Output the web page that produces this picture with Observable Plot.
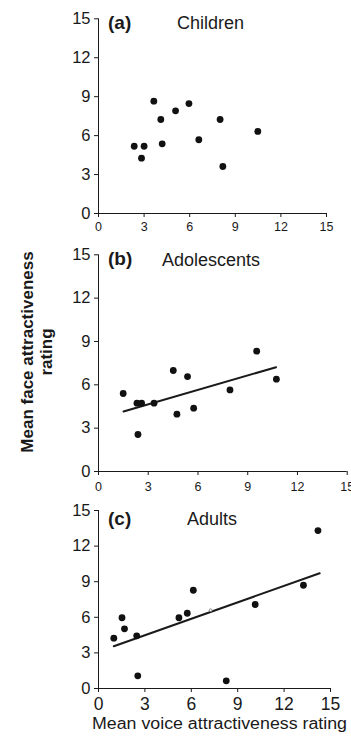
<!DOCTYPE html>
<html>
<head>
<meta charset="utf-8">
<script src="https://cdn.jsdelivr.net/npm/d3@7"></script>
<script src="https://cdn.jsdelivr.net/npm/@observablehq/plot@0.6"></script>
<style>
  html, body { margin: 0; padding: 0; background: #fff; }
  body { position: relative; width: 351px; height: 736px; overflow: hidden;
         font-family: "Liberation Sans", Arial, Helvetica, sans-serif; color: #1a1a1a; }
  .panel { position: absolute; left: 0; }
  #pa g[aria-label^="x-axis"] { font-size: 12.5px; }
  #pb g[aria-label^="x-axis"] { font-size: 12.5px; }
  #pc g[aria-label^="x-axis"] { font-size: 17.5px; }
  #overlay { position: absolute; left: 0; top: 0; pointer-events: none; }
</style>
</head>
<body>
<div id="pa" class="panel" style="top:0px"></div>
<div id="pb" class="panel" style="top:240px"></div>
<div id="pc" class="panel" style="top:495px"></div>
<script>
// ---- data ----
const xTicks = [0, 3, 6, 9, 12, 15];
const yTicks = [0, 3, 6, 9, 12, 15];

const panelTags   = ["(a)", "(b)", "(c)"];
const panelTitles = ["Children", "Adolescents", "Adults"];
const xAxisTitle = "Mean voice attractiveness rating";
const yAxisTitleLines = ["Mean face attractiveness", "rating"];

const childX = [2.35, 3.0, 2.83, 3.64, 4.1, 4.19, 5.07, 5.95, 6.6, 8.0, 8.18, 10.48];
const childY = [5.18, 5.18, 4.26, 8.65, 7.24, 5.37, 7.91, 8.47, 5.68, 7.24, 3.62, 6.32];

const adolX = [1.49, 2.32, 2.6, 2.38, 3.35, 4.51, 4.73, 5.37, 5.74, 7.93, 9.54, 10.73];
const adolY = [5.4, 4.73, 4.73, 2.56, 4.73, 6.99, 3.97, 6.57, 4.38, 5.65, 8.33, 6.39];
const adolFitX = [1.51, 10.71];
const adolFitY = [4.15, 7.22];

const adultX = [0.99, 1.52, 1.68, 2.47, 2.54, 5.2, 5.74, 6.13, 8.26, 10.13, 13.25, 14.19];
const adultY = [4.24, 5.96, 5.03, 4.44, 1.07, 5.96, 6.34, 8.28, 0.65, 7.08, 8.7, 13.31];
const adultFitX = [0.99, 14.3];
const adultFitY = [3.56, 9.71];
const adultOpenX = [7.25];
const adultOpenY = [6.6];

// ---- drawing ----
const zip = (xs, ys) => xs.map((x, i) => ({x, y: ys[i]}));
const ink = "#1a1a1a";

function panel({xs, ys, fitX, fitY, openX, openY, height, mt, mb, mr, xPad}) {
  const marks = [
    Plot.ruleX([0], {stroke: ink, strokeWidth: 1}),
    Plot.ruleY([0], {stroke: ink, strokeWidth: 1}),
  ];
  if (fitX) marks.push(Plot.line(zip(fitX, fitY), {x: "x", y: "y", stroke: ink, strokeWidth: 2}));
  marks.push(Plot.dot(zip(xs, ys), {x: "x", y: "y", r: 3.4, fill: "#111", stroke: "none"}));
  if (openX) marks.push(Plot.dot(zip(openX, openY), {x: "x", y: "y", r: 1.4, fill: "#fff", stroke: "#777", strokeWidth: 0.8}));
  return Plot.plot({
    width: 351, height,
    marginLeft: 98, marginRight: mr, marginTop: mt, marginBottom: mb,
    x: {domain: [0, 15], ticks: xTicks, tickSize: 4, tickPadding: xPad, label: null},
    y: {domain: [0, 15], ticks: yTicks, tickSize: 4, tickPadding: 4, label: null},
    style: {fontFamily: '"Liberation Sans", Arial, sans-serif', fontSize: "16.5px", color: ink, background: "transparent"},
    marks
  });
}

document.getElementById("pa").appendChild(panel({xs: childX, ys: childY, height: 240, mt: 18.3, mb: 27, mr: 25, xPad: 4.5}));
document.getElementById("pb").appendChild(panel({xs: adolX, ys: adolY, fitX: adolFitX, fitY: adolFitY, height: 255, mt: 14.3, mb: 24, mr: 4.3, xPad: 6.5}));
document.getElementById("pc").appendChild(panel({xs: adultX, ys: adultY, fitX: adultFitX, fitY: adultFitY, openX: adultOpenX, openY: adultOpenY, height: 241, mt: 15, mb: 48, mr: 21, xPad: 5}));

// ---- overlay texts ----
const svg = d3.select("body").append("svg")
  .attr("id", "overlay").attr("width", 351).attr("height", 736)
  .style("font-family", '"Liberation Sans", Arial, sans-serif').attr("fill", ink);

const tagPos = [[108, 28.5], [108, 265], [108, 525]];
const titlePos = [[177, 29], [162, 265.5], [187, 524.5]];
panelTags.forEach((t, i) => {
  svg.append("text").attr("x", tagPos[i][0]).attr("y", tagPos[i][1])
    .attr("font-size", 19).attr("font-weight", "bold").text(t);
  svg.append("text").attr("x", titlePos[i][0]).attr("y", titlePos[i][1])
    .attr("font-size", 18).text(panelTitles[i]);
});

svg.append("text").attr("x", 92).attr("y", 728.5)
  .attr("font-size", 16).attr("textLength", 255).attr("lengthAdjust", "spacingAndGlyphs")
  .text(xAxisTitle);

const yl = [33, 51.5];
yAxisTitleLines.forEach((t, i) => {
  svg.append("text").attr("transform", `translate(${yl[i]},352) rotate(-90)`)
    .attr("text-anchor", "middle").attr("font-size", 17).attr("font-weight", "bold").text(t);
});
</script>
</body>
</html>
